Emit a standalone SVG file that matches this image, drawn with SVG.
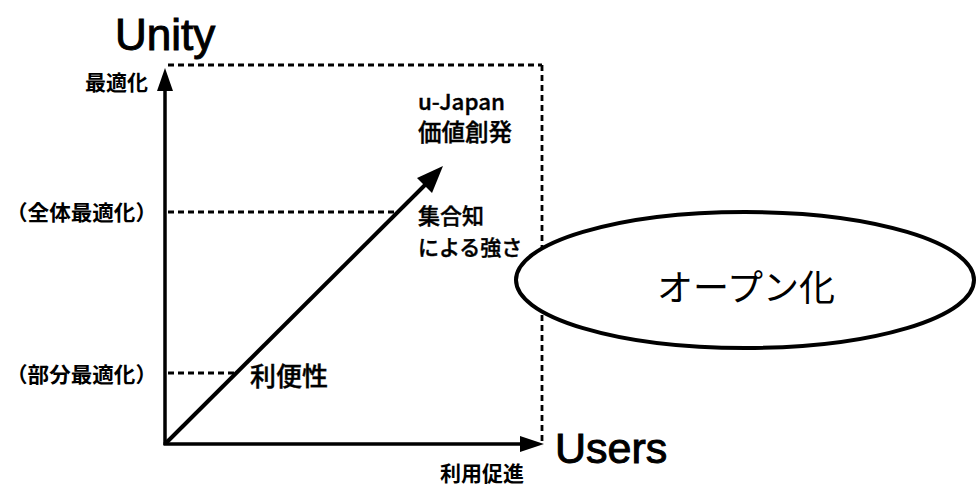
<svg xmlns="http://www.w3.org/2000/svg" width="976" height="486" viewBox="0 0 976 486">
<style>
.ax{stroke:#000;stroke-width:3.5;fill:none}
.dash{stroke:#000;stroke-width:2.8;fill:none;stroke-dasharray:6 4}
.en{font-family:"Liberation Sans",Arial,sans-serif;fill:#000;stroke:#000;stroke-width:1}
.jb{font-family:"Noto Sans CJK JP",sans-serif;font-weight:bold;fill:#000}
.jm{font-family:"Noto Sans CJK JP",sans-serif;font-weight:500;fill:#000;stroke:#000;stroke-width:0.4}
.jr{font-family:"Noto Sans CJK JP",sans-serif;font-weight:normal;fill:#000}
</style>
<rect width="976" height="486" fill="#fff"/>
<g id="connectors">
<line class="dash" x1="168" y1="65" x2="542" y2="65"/>
<line class="dash" x1="542" y1="65" x2="542" y2="443"/>
<line class="dash" x1="168" y1="212" x2="396" y2="212"/>
<line class="dash" x1="168" y1="373" x2="236" y2="373"/>
<line class="ax" x1="165" y1="445" x2="165" y2="88"/>
<path d="M157,91 L165,68 L173,91 Z" fill="#000"/>
<line class="ax" x1="163.5" y1="444" x2="522" y2="444"/>
<path d="M520,436 L544,444 L520,452 Z" fill="#000"/>
<line stroke="#000" stroke-width="4" x1="166" y1="443" x2="428" y2="182"/>
<path d="M417,178 L443,166 L432,193 Z" fill="#000"/>
</g>
<g id="unity"><text class="en" x="115" y="50" font-size="44">Unity</text></g>
<g id="users"><text class="en" x="555" y="463" font-size="43">Users</text></g>
<g id="saiteki"><text class="jb" x="148" y="90" font-size="21" text-anchor="end">最適化</text></g>
<g id="zentai"><text class="jb" x="6" y="220" font-size="21" textLength="151" lengthAdjust="spacingAndGlyphs">（全体最適化）</text></g>
<g id="bubun"><text class="jb" x="6" y="382" font-size="21" textLength="151" lengthAdjust="spacingAndGlyphs">（部分最適化）</text></g>
<g id="riben"><text class="jm" x="250" y="386" font-size="26">利便性</text></g>
<g id="riyou"><text class="jb" x="440" y="481" font-size="21">利用促進</text></g>
<g id="ujapan">
<text class="jm" x="418" y="110" font-size="22" textLength="87" lengthAdjust="spacingAndGlyphs">u-Japan</text>
<text class="jm" x="418" y="141" font-size="23.5">価値創発</text>
</g>
<g id="shugochi">
<text class="jm" x="418" y="224" font-size="22">集合知</text>
<text class="jm" x="418" y="255" font-size="21">による強さ</text>
</g>
<g id="open">
<ellipse cx="745" cy="280" rx="229" ry="68" fill="#fff" stroke="#000" stroke-width="4"/>
<text class="jr" x="746" y="301" font-size="36" text-anchor="middle">オープン化</text>
</g>
</svg>
